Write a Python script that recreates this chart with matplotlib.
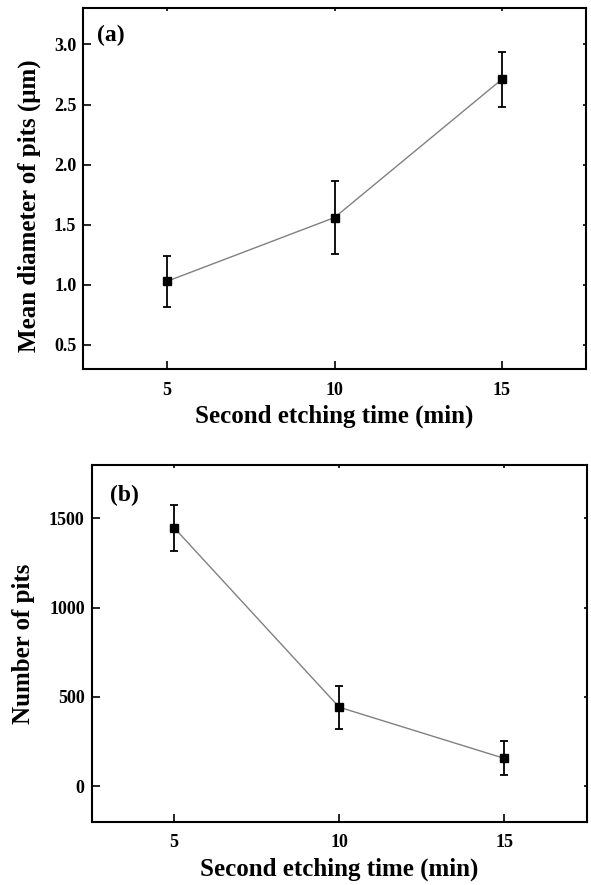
import numpy as np
import matplotlib
matplotlib.use('Agg')
import matplotlib.pyplot as plt

plt.rcParams['font.family'] = ['Liberation Serif', 'DejaVu Serif']
plt.rcParams['font.weight'] = 'bold'

# datos
tiempo = [5, 10, 15]
diametro = [1.03, 1.56, 2.71]
err_diametro = [0.21, 0.30, 0.23]
numero = [1448, 442, 155]
err_numero = [128, 120, 95]

fig = plt.figure(figsize=(5.91, 8.85), dpi=100)
ax1 = fig.add_axes([0.141, 0.583, 0.850, 0.4076])
ax2 = fig.add_axes([0.155, 0.0715, 0.838, 0.4031])


def estilo(ax, xl_y):
    for s in ax.spines.values():
        s.set_linewidth(1.5)
    ax.tick_params(axis='both', which='major', direction='in', length=6,
                   width=1.2, labelsize=13)
    ax.tick_params(axis='x', pad=9)
    ax.tick_params(axis='y', pad=5)
    ax.tick_params(top=True, right=True)
    ax.set_xlim(2.5, 17.5)
    ax.set_xticks(tiempo)
    ax.set_xlabel('Second etching time (min)', fontsize=18, fontweight='bold')
    ax.xaxis.set_label_coords(0.5, xl_y)
    for t in ax.xaxis.get_major_ticks():
        t.tick2line.set_markersize(2.5)
    for t in ax.yaxis.get_major_ticks():
        t.tick2line.set_markersize(2.5)


ax1.errorbar(tiempo, diametro, yerr=err_diametro, color='gray', lw=1,
             marker='s', ms=6, mfc='black', mec='black',
             ecolor='black', elinewidth=1.3, capsize=3, capthick=1.3)
ax1.set_ylim(0.3, 3.3)
ax1.set_yticks([0.5, 1.0, 1.5, 2.0, 2.5, 3.0])
ax1.set_yticklabels(['0.5', '1.0', '1.5', '2.0', '2.5', '3.0'])
ax1.set_ylabel('Mean diameter of pits (μm)', fontsize=18, fontweight='bold')
ax1.yaxis.set_label_coords(-0.084, 0.452)
estilo(ax1, -0.098)
ax1.text(0.028, 0.955, '(a)', transform=ax1.transAxes, fontsize=17,
         fontweight='bold', va='top', ha='left')

ax2.errorbar(tiempo, numero, yerr=err_numero, color='gray', lw=1,
             marker='s', ms=6, mfc='black', mec='black',
             ecolor='black', elinewidth=1.3, capsize=3, capthick=1.3)
ax2.set_ylim(-200, 1800)
ax2.set_yticks([0, 500, 1000, 1500])
ax2.set_ylabel('Number of pits', fontsize=18, fontweight='bold')
ax2.yaxis.set_label_coords(-0.115, 0.5)
estilo(ax2, -0.1)
ax2.text(0.037, 0.945, '(b)', transform=ax2.transAxes, fontsize=17,
         fontweight='bold', va='top', ha='left')

fig.savefig('out.png', dpi=100)
